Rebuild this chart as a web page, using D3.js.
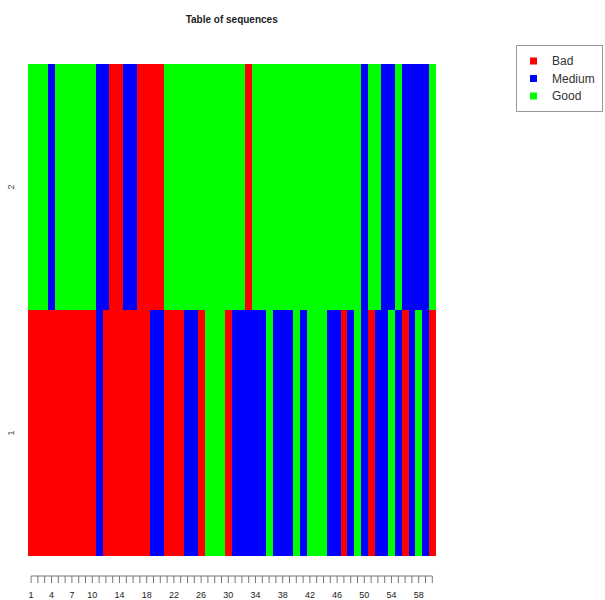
<!DOCTYPE html>
<html>
<head>
    <title>Table of sequences</title>
    <style>
        body { margin: 0; background: #fff; font-family: "Liberation Sans", Arial, sans-serif; }
    </style>
</head>
<body>
    <svg id="chart" width="605" height="600"></svg>
    <script src="https://d3js.org/d3.v7.min.js"></script>
    <script>
        // states per position, R = Bad, B = Medium, G = Good
        const states = ["Bad", "Medium", "Good"];
        const stateColors = ["#ff0000", "#0000ff", "#00ff00"];
        const sequences = ["1", "2"];
        const seq1 = "RRRRRRRRRRBRRRRRRRBBRRRBBRGGGRBBBBBGBBBGBGGGBBRBGBRBBGBRBGBR";
        const seq2 = "GGGBGGGGGGBBRRBBRRRRGGGGGGGGGGGGRGGGGGGGGGGGGGGGGBGGBBGBBBBG";
        const tickLabels = [1, 4, 7, 10, 14, 18, 22, 26, 30, 34, 38, 42, 46, 50, 54, 58];

        const code = { R: "Bad", B: "Medium", G: "Good" };
        const rows = [seq1, seq2].map((s, i) => ({
            id: sequences[i],
            cells: s.split("").map((c, j) => ({ pos: j + 1, state: code[c] }))
        }));
        const positions = d3.range(1, seq1.length + 1);

        const svg = d3.select("#chart");
        const plotLeft = 27.7, plotRight = 435.7, plotTop = 64, plotBottom = 556;

        const x = d3.scaleBand().domain(positions).range([plotLeft, plotRight]).padding(0);
        const y = d3.scaleBand().domain(["2", "1"]).range([plotTop, plotBottom]).padding(0);
        const color = d3.scaleOrdinal().domain(states).range(stateColors);

        // cells
        svg.append("g")
            .selectAll("g")
            .data(rows)
            .join("g")
            .selectAll("rect")
            .data(d => d.cells.map(c => ({ ...c, id: d.id })))
            .join("rect")
            .attr("x", d => x(d.pos))
            .attr("y", d => y(d.id))
            .attr("width", x.bandwidth() + 0.3)
            .attr("height", y.bandwidth())
            .attr("fill", d => color(d.state))
            .attr("shape-rendering", "crispEdges");

        // x axis
        const xAxis = d3.axisBottom(x)
            .tickSize(7)
            .tickFormat(d => tickLabels.includes(d) ? d : "");
        const gx = svg.append("g")
            .attr("transform", "translate(0,576)")
            .call(xAxis);
        gx.select(".domain")
            .attr("d", `M${x(1) + x.bandwidth() / 2},0H${x(positions.length) + x.bandwidth() / 2}`)
            .attr("stroke", "#777");
        gx.selectAll(".tick line").attr("stroke", "#777");
        gx.selectAll(".tick text")
            .attr("fill", "#222")
            .attr("font-size", "9px")
            .attr("font-family", "Liberation Sans, Arial, sans-serif")
            .attr("dy", "1.3em");

        // y labels (rotated, no ticks)
        svg.append("g")
            .selectAll("text")
            .data(sequences)
            .join("text")
            .attr("transform", d => `translate(14,${y(d) + y.bandwidth() / 2}) rotate(-90)`)
            .attr("text-anchor", "middle")
            .attr("font-size", "9px")
            .attr("fill", "#444")
            .text(d => d);

        // title
        svg.append("text")
            .attr("x", (plotLeft + plotRight) / 2)
            .attr("y", 23)
            .attr("text-anchor", "middle")
            .attr("font-size", "10px")
            .attr("font-weight", "bold")
            .attr("fill", "#222")
            .text("Table of sequences");

        // legend
        const legend = svg.append("g");
        legend.append("rect")
            .attr("x", 516.5)
            .attr("y", 45.5)
            .attr("width", 86)
            .attr("height", 66)
            .attr("fill", "none")
            .attr("stroke", "#999");
        const items = legend.selectAll("g")
            .data(states)
            .join("g")
            .attr("transform", (d, i) => `translate(0,${61 + i * 17.5})`);
        items.append("rect")
            .attr("x", 530)
            .attr("y", -3.5)
            .attr("width", 7)
            .attr("height", 7)
            .attr("fill", d => color(d));
        items.append("text")
            .attr("x", 552)
            .attr("y", 4)
            .attr("font-size", "12px")
            .attr("fill", "#333")
            .text(d => d);
    </script>
</body>
</html>
